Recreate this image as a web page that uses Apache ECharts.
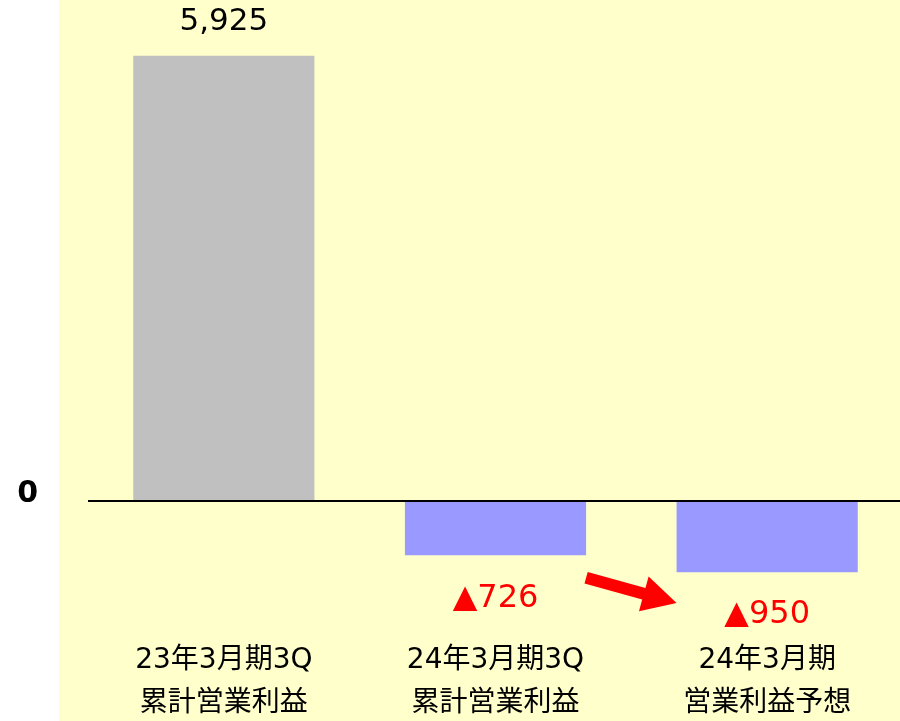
<!DOCTYPE html>
<html><head><meta charset="utf-8">
<script src="https://cdn.jsdelivr.net/npm/echarts@6/dist/echarts.min.js"></script>
<style>html,body{margin:0;padding:0;background:#fff;overflow:hidden}#c{width:900px;height:721px}</style>
</head><body><div id="c"></div>
<script>
const categories = ['23年3月期3Q\n累計営業利益', '24年3月期3Q\n累計営業利益', '24年3月期\n営業利益予想'];
const values = [5925, -726, -950];
const valueLabels = ['5,925', '▲726', '▲950'];
const barColors = ['#C0C0C0', '#9999FF', '#9999FF'];

const chart = echarts.init(document.getElementById('c'), null, {renderer: 'canvas', width: 900, height: 721});
const bg = {type: 'rect', z: -10, shape: {x: 59, y: 0, width: 841, height: 721}, style: {fill: '#FFFFCC'}};
const option = {
  backgroundColor: '#ffffff',
  animation: false,
  graphic: [bg],
  grid: {left: 88, top: 50, width: 815, height: 586, outerBoundsMode: 'none', containLabel: false},
  xAxis: {
    type: 'category', data: categories, position: 'bottom',
    axisLine: {show: false, onZero: false}, axisTick: {show: false},
    axisLabel: {margin: 3, fontSize: 28, lineHeight: 43, color: '#000', fontFamily: 'DejaVu Sans, Noto Sans CJK JP'}
  },
  yAxis: {
    type: 'value', min: -1800, max: 6000, interval: 600,
    splitLine: {show: false}, axisLine: {show: false}, axisTick: {show: false},
    axisLabel: {margin: 50, fontSize: 30, fontWeight: 'bold', color: '#000', fontFamily: 'DejaVu Sans',
      verticalAlign: 'bottom', lineHeight: 14,
      formatter: v => v === 0 ? '0' : ''}
  },
  series: [{
    type: 'bar', barWidth: '66.7%',
    data: values.map((v, i) => ({
      value: v,
      itemStyle: {color: barColors[i]},
      label: {
        show: true, formatter: valueLabels[i],
        position: v >= 0 ? 'top' : 'bottom', distance: v >= 0 ? 18 : 27,
        fontSize: v >= 0 ? 31 : 32, fontFamily: 'DejaVu Sans', color: v >= 0 ? '#000' : '#FF0000'
      }
    })),
    markLine: {
      silent: true, symbol: 'none', label: {show: false},
      lineStyle: {color: '#000', width: 2, type: 'solid'},
      data: [{yAxis: 0}]
    }
  }]
};
chart.setOption(option);

// arrow from bar 2's right side to bar 3's left side
const p1 = chart.convertToPixel({xAxisIndex: 0, yAxisIndex: 0}, [1, -1025]);
const p2 = chart.convertToPixel({xAxisIndex: 0, yAxisIndex: 0}, [2, -1360]);
const bw = 815 / 3 * 0.667;
const x0 = p1[0] + bw / 2, y0 = p1[1];
const x1 = p2[0] - bw / 2, y1 = p2[1];
const dx = x1 - x0, dy = y1 - y0, L = Math.hypot(dx, dy);
const ux = dx / L, uy = dy / L, nx = -uy, ny = ux;
const sw = 6, hl = 34, hw = 18;
const pt = (a, b) => [x0 + ux * a + nx * b, y0 + uy * a + ny * b];
const pts = [pt(0, -sw), pt(L - hl, -sw), pt(L - hl, -hw), pt(L, 0), pt(L - hl, hw), pt(L - hl, sw), pt(0, sw)];
chart.setOption({graphic: [bg, {type: 'polygon', z: 100, shape: {points: pts}, style: {fill: '#FF0000'}}]});
</script></body></html>
